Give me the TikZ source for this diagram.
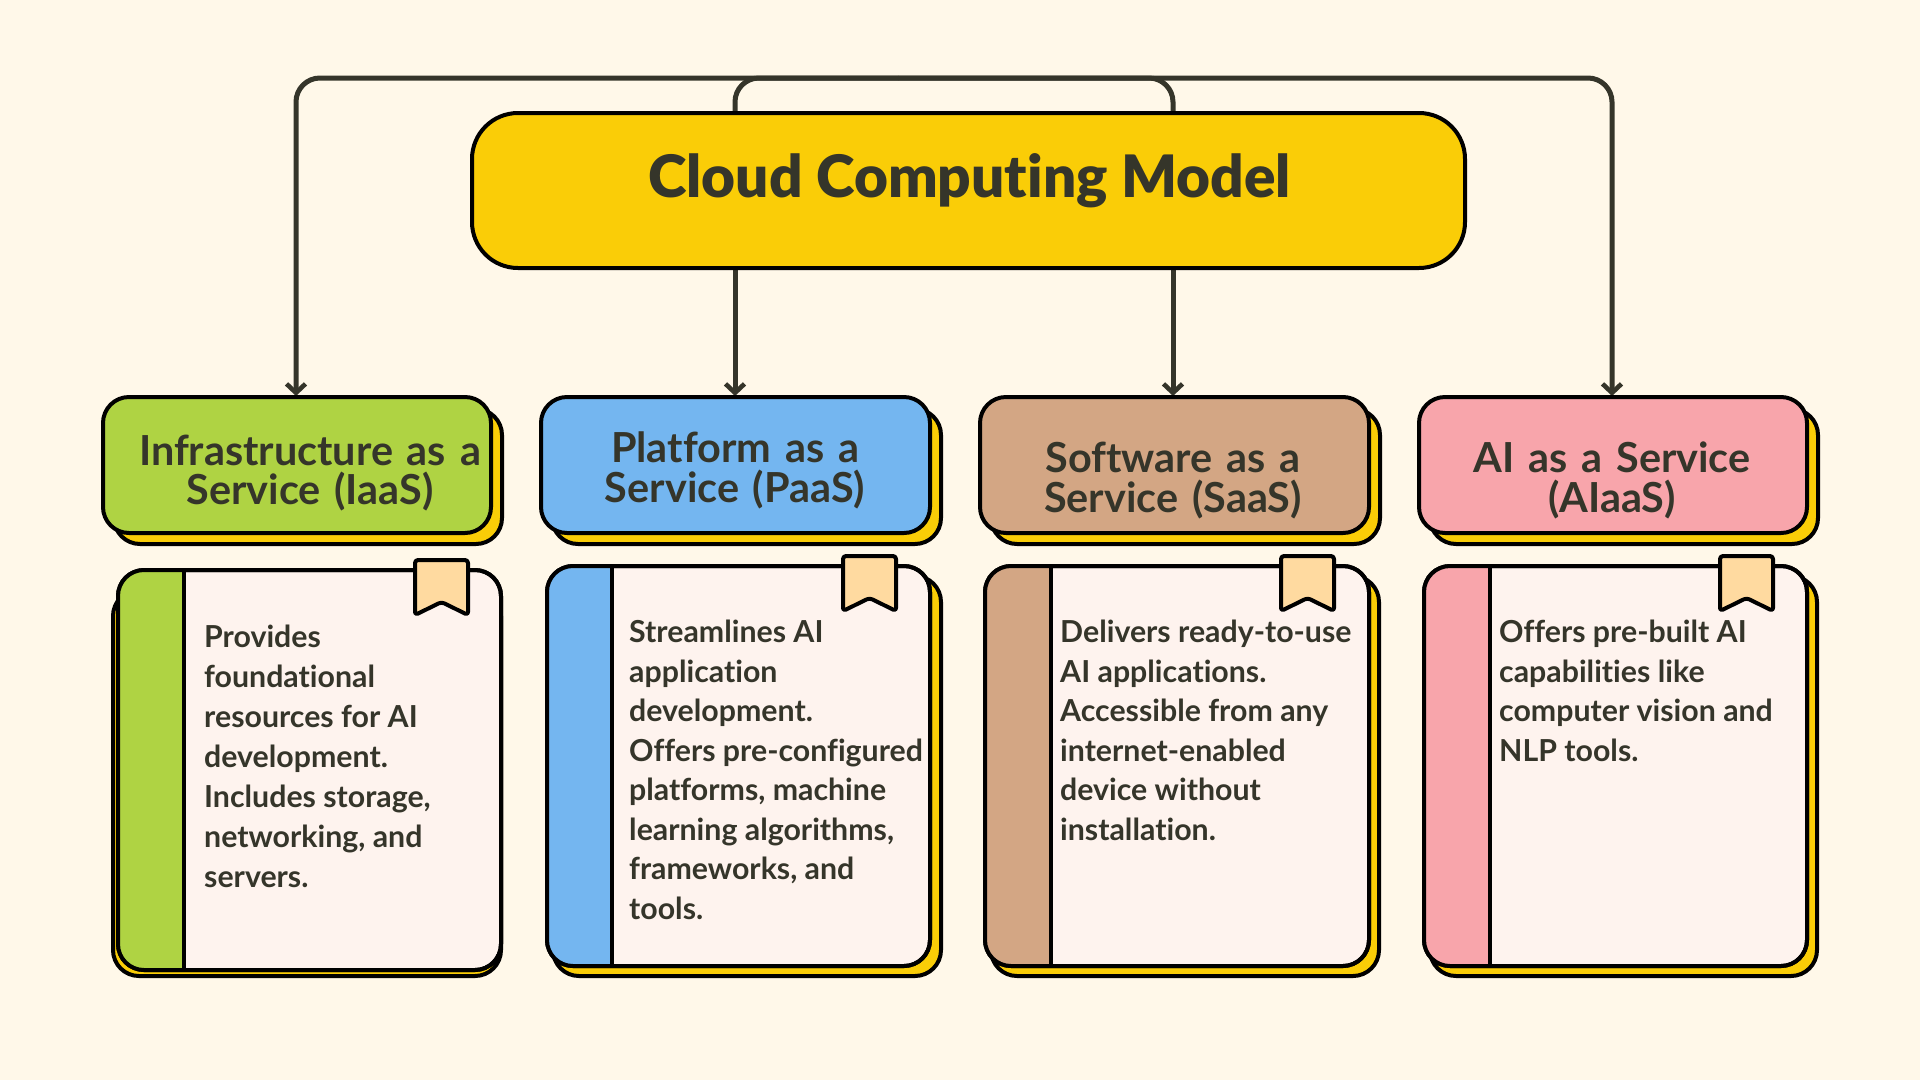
\documentclass[tikz,border=0pt]{standalone}
\usepackage{fontspec}
\setmainfont[Ligatures=NoCommon]{Lato}
\newfontfamily\rootfont[Ligatures=NoCommon]{Lato Black}
\newfontfamily\headfont[Ligatures=NoCommon,WordSpace=0.8]{Lato Bold}
\usetikzlibrary{arrows.meta}
\definecolor{bgc}{HTML}{FFF8E9}
\definecolor{ink}{HTML}{35352A}
\definecolor{yel}{HTML}{FACD07}
\definecolor{grn}{HTML}{AFD343}
\definecolor{blu}{HTML}{74B6F0}
\definecolor{tan}{HTML}{D3A684}
\definecolor{pnk}{HTML}{F8A5AB}
\definecolor{pap}{HTML}{FEF3EE}
\definecolor{tab}{HTML}{FFDAA0}
\tikzset{x=1pt,y=-1pt,
 px/.style={line width=4pt,draw=black,line join=round},
 conn/.style={line width=5pt,draw=ink,rounded corners=24pt},
 tip/.style={-{Straight Barb[length=9pt,width=19pt,line width=4.6pt]}},
 headtxt/.style={text=ink,font=\fontsize{41.4}{39.5}\headfont,align=center,inner sep=0pt,text width=380pt},
 bodytxt/.style={text=ink,font=\fontsize{30.3}{39.5}\selectfont\bfseries,align=left,inner sep=0pt,anchor=north west},
}
\newcommand{\hbx}[6]{% x0 y0 x1 y1 colour name
 \draw[px,fill=yel,rounded corners=26pt] (#1+11,#2+12) rectangle (#3+11,#4+11);
 \draw[px,fill=#5,rounded corners=26pt] (#1,#2) rectangle (#3,#4);
 \coordinate (#6) at ({(#1+#3)/2},#2);
}
\newcommand{\shd}[4]{\draw[px,fill=yel,rounded corners=26pt] (#1,#2) rectangle (#3,#4);}
\newcommand{\card}[7]{% x0 y0 x1 y1 colour bandx tabx
 \draw[px,fill=pap,rounded corners=26pt] (#1,#2) rectangle (#3,#4);
 \begin{scope}
 \clip[rounded corners=26pt] (#1,#2) rectangle (#3,#4);
 \fill[#5] (#1,#2) rectangle (#6,#4);
 \end{scope}
 \draw[px,rounded corners=26pt] (#1,#2) rectangle (#3,#4);
 \draw[px] (#6,#2) -- (#6,#4);
 \draw[px,fill=tab,rounded corners=3pt] (#7,#2-10) -- (#7+53,#2-10) -- (#7+53,#2+45) -- (#7+26.5,#2+32) -- (#7,#2+45) -- cycle;
}
\begin{document}
\begin{tikzpicture}
\useasboundingbox (0,0) rectangle (1920,1080);
\fill[bgc] (0,0) rectangle (1920,1080);
\coordinate (top) at (898,78);
% connectors behind
\draw[conn] (735,150) |- (top);
\draw[conn] (1173,150) |- (top);
\draw[conn,tip] (top) -| (296,396);
\draw[conn,tip] (top) -| (1612,396);
\draw[conn,tip] (735,230) -- (735,396);
\draw[conn,tip] (1173,230) -- (1173,396);
% root
\node[px,fill=yel,minimum width=993pt,minimum height=155pt,rounded corners=46pt,inner sep=0pt] (root) at (968.5,190.5) {};
\node[text=ink,font=\fontsize{58.5}{60}\rootfont,inner sep=0pt] (roottxt) at (969.5,181) {Cloud Computing Model};
% headers
\hbx{103}{397}{491}{533}{grn}{h1}
\hbx{541}{397}{930}{533}{blu}{h2}
\hbx{980}{397}{1369}{533}{tan}{h3}
\hbx{1419}{397}{1807}{533}{pnk}{h4}
\node[headtxt] (n1) at (310,473) {Infrastructure as a\\Service (IaaS)};
\node[headtxt] (n2) at (735,470.5) {Platform as a\\Service (PaaS)};
\node[headtxt] (n3) at (1173,480.5) {Software as a\\Service (SaaS)};
\node[headtxt] (n4) at (1612,480.5) {AI as a Service\\(AIaaS)};
% cards
\shd{113}{590}{501}{976}
\shd{553}{576}{941}{976}
\shd{991}{576}{1379}{976}
\shd{1430}{576}{1817}{976}
\card{118}{570}{501}{970}{grn}{184}{415}
\card{547}{566}{930}{966}{blu}{612}{843}
\card{985}{566}{1369}{966}{tan}{1051}{1281}
\card{1424}{566}{1807}{966}{pnk}{1490}{1720}
\node[bodytxt,font=\fontsize{30.3}{39.9}\selectfont\bfseries] (b1) at (204,625) {Provides\\foundational\\resources for AI\\development.\\Includes storage,\\networking, and\\servers.};
\node[bodytxt] (b2) at (629,620) {Streamlines AI\\application\\development.\\Offers pre-configured\\platforms, machine\\learning algorithms,\\frameworks, and\\tools.};
\node[bodytxt] (b3) at (1060,620) {Delivers ready-to-use\\AI applications.\\Accessible from any\\internet-enabled\\device without\\installation.};
\node[bodytxt] (b4) at (1499,620) {Offers pre-built AI\\capabilities like\\computer vision and\\NLP tools.};
\end{tikzpicture}
\end{document}
